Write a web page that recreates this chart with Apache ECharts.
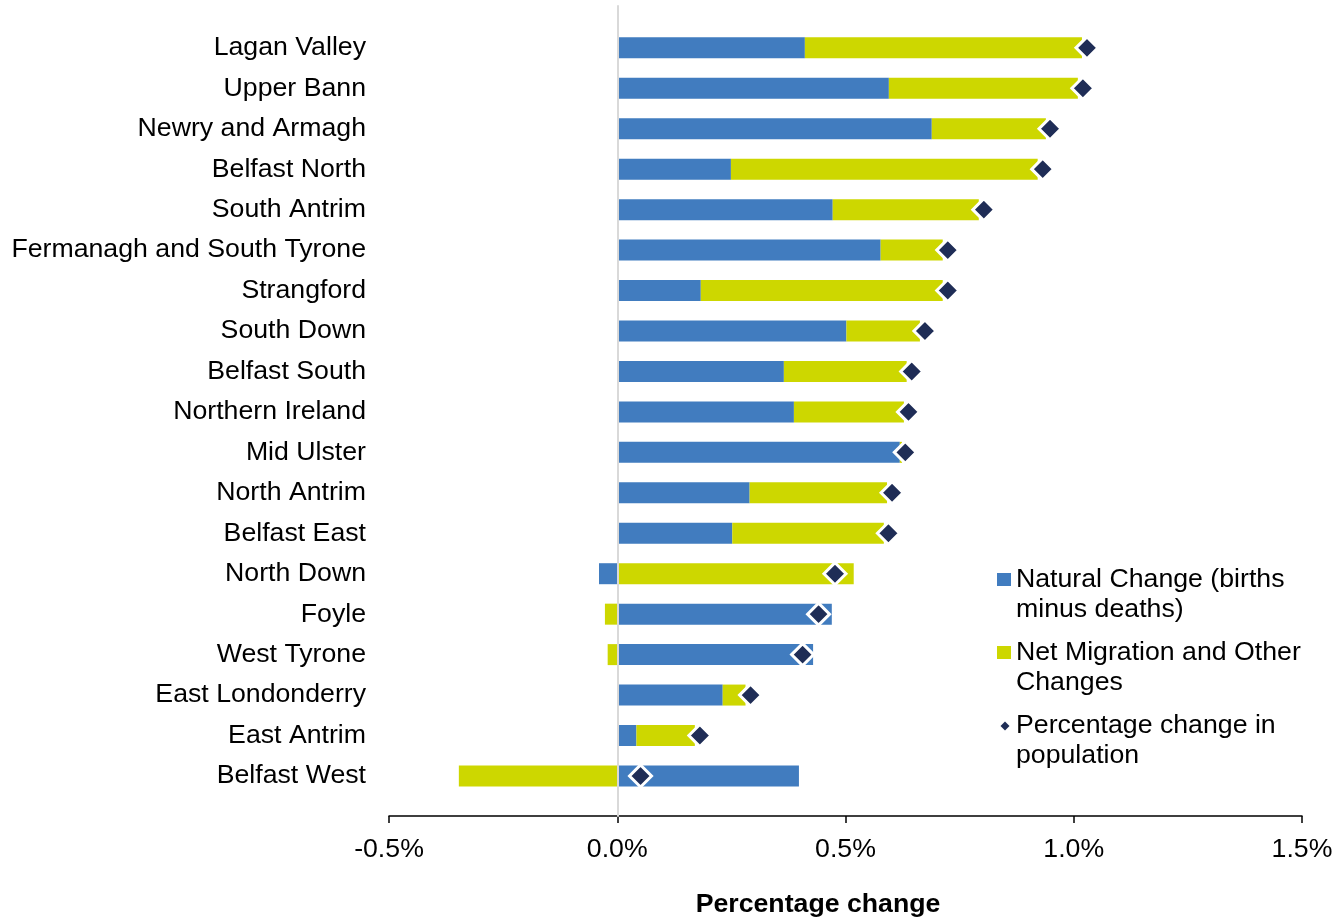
<!DOCTYPE html>
<html>
<head>
<meta charset="utf-8">
<script src="https://cdn.jsdelivr.net/npm/echarts@6/dist/echarts.min.js"></script>
<style>
html, body { margin: 0; padding: 0; background: #fff; }
#pop_chart { width: 1337px; height: 919px; }
</style>
</head>
<body>
<div id="pop_chart"></div>
<script>
// constituencies, top to bottom
var areas = ['Lagan Valley', 'Upper Bann', 'Newry and Armagh', 'Belfast North', 'South Antrim',
    'Fermanagh and South Tyrone', 'Strangford', 'South Down', 'Belfast South', 'Northern Ireland',
    'Mid Ulster', 'North Antrim', 'Belfast East', 'North Down', 'Foyle', 'West Tyrone',
    'East Londonderry', 'East Antrim', 'Belfast West'];

// % change components
var naturalChange = [0.411, 0.595, 0.689, 0.249, 0.472, 0.577, 0.183, 0.502, 0.365, 0.387,
    0.619, 0.290, 0.252, -0.040, 0.470, 0.429, 0.231, 0.042, 0.398];
var netMigration = [0.607, 0.414, 0.250, 0.672, 0.320, 0.136, 0.530, 0.161, 0.269, 0.241,
    0.005, 0.301, 0.332, 0.518, -0.027, -0.021, 0.050, 0.128, -0.347];
var totalChange = [1.029, 1.020, 0.948, 0.932, 0.803, 0.724, 0.724, 0.674, 0.645, 0.638,
    0.631, 0.602, 0.594, 0.477, 0.441, 0.406, 0.292, 0.181, 0.051];

var xTicks = [-0.5, 0.0, 0.5, 1.0, 1.5];

var seriesNames = ['Natural Change (births minus deaths)', 'Net Migration and Other Changes',
    'Percentage change in population'];
var legendText = ['Natural Change (births\nminus deaths)', 'Net Migration and Other\nChanges',
    'Percentage change in\npopulation'];

var FONT = "'Liberation Sans', Arial, sans-serif";
var FS = 26.7;
var popChart = echarts.init(document.getElementById('pop_chart'));

var option = {
    animation: false,
    textStyle: { fontFamily: FONT },
    grid: [
        { left: 389, right: 35, top: 27.6, height: 768.6, outerBoundsMode: 'none' },   // bars
        { left: 389, right: 35, top: 6, height: 810, outerBoundsMode: 'none' }         // axis + zero line
    ],
    legend: {
        orient: 'vertical',
        left: 990,
        top: 560,
        itemWidth: 16,
        itemHeight: 60,
        itemGap: 13,
        symbolKeepAspect: false,
        itemStyle: { borderWidth: 0 },
        textStyle: { fontSize: FS, lineHeight: 30, color: '#000', fontFamily: FONT },
        formatter: function (name) {
            return legendText[seriesNames.indexOf(name)];
        },
        data: [
            { name: seriesNames[0], icon: 'path://M2,8h14v13h-14zM0,0M16,60' },
            { name: seriesNames[1], icon: 'path://M2,8h14v13h-14zM0,0M16,60' },
            { name: seriesNames[2], icon: 'path://M10,10.5L14.5,15L10,19.5L5.5,15zM0,0M16,60' }
        ]
    },
    xAxis: [
        {
            gridIndex: 0, type: 'value',
            min: xTicks[0], max: xTicks[xTicks.length - 1], interval: 0.5,
            show: false
        },
        {
            gridIndex: 1, type: 'value',
            min: xTicks[0], max: xTicks[xTicks.length - 1], interval: 0.5,
            axisLine: { show: true, onZero: false, lineStyle: { color: '#000', width: 1.5 } },
            axisTick: { show: true, length: 7, lineStyle: { color: '#000', width: 1.5 } },
            axisLabel: {
                fontSize: FS, color: '#000', margin: 20,
                formatter: function (v) { return v.toFixed(1) + '%'; }
            },
            splitLine: { show: false },
            name: 'Percentage change',
            nameLocation: 'middle',
            nameGap: 75,
            nameTextStyle: { fontSize: FS, fontWeight: 'bold', color: '#000', padding: [0, 55, 0, 0] }
        }
    ],
    yAxis: [
        {
            gridIndex: 0, type: 'category', data: areas, inverse: true,
            axisLine: { show: false },
            axisTick: { show: false },
            axisLabel: { fontSize: FS, color: '#000', margin: 23 }
        },
        {
            gridIndex: 1, type: 'value', min: 0, max: 1, z: 5,
            axisLine: { show: true, onZero: true, lineStyle: { color: '#d9d9d9', width: 2 } },
            axisTick: { show: false },
            axisLabel: { show: false },
            splitLine: { show: false }
        }
    ],
    series: [
        {
            name: seriesNames[0], type: 'bar', stack: 'chg',
            xAxisIndex: 0, yAxisIndex: 0,
            barWidth: 21,
            itemStyle: { color: '#417cbf' },
            data: naturalChange
        },
        {
            name: seriesNames[1], type: 'bar', stack: 'chg',
            xAxisIndex: 0, yAxisIndex: 0,
            barWidth: 21,
            itemStyle: { color: '#cdd700' },
            data: netMigration
        },
        {
            name: seriesNames[2], type: 'scatter',
            xAxisIndex: 0, yAxisIndex: 0,
            symbol: 'diamond', symbolSize: 22, z: 6,
            itemStyle: { color: '#1f2d56', borderColor: '#fff', borderWidth: 3, opacity: 1 },
            data: totalChange.map(function (v, i) { return [v, areas[i]]; })
        }
    ]
};
popChart.setOption(option);
</script>
</body>
</html>
